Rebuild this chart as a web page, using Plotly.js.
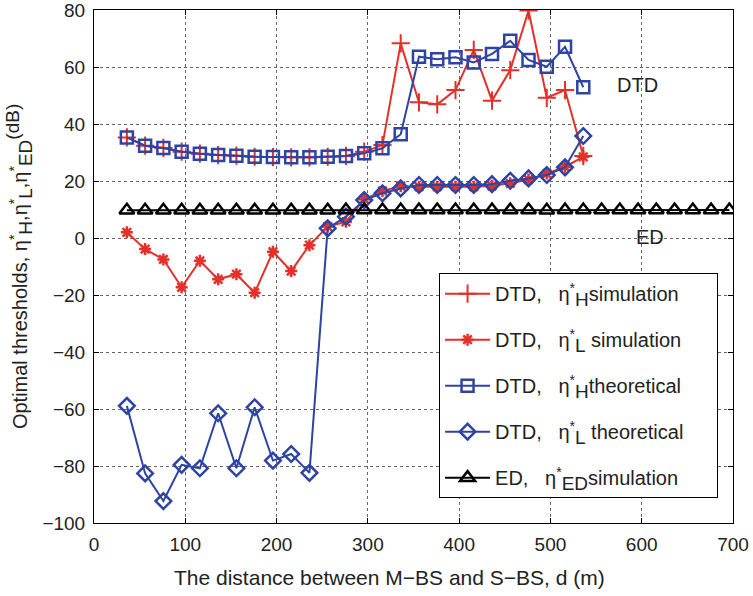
<!DOCTYPE html>
<html>
<head>
<meta charset="utf-8">
<script src="https://cdn.plot.ly/plotly-3.0.1.min.js"></script>
<style>html,body{margin:0;padding:0;background:#fff;}#chart{width:753px;height:596px;}</style>
</head>
<body>
<div id="chart"></div>
<script>
// ---- data ----
const distDTD = [36, 56, 76, 96, 116, 136, 156, 176, 196, 216, 236, 256, 276, 296, 316, 336, 356, 376, 396, 416, 436, 456, 476, 496, 516, 536];
const etaH_sim = [35.3, 32.4, 31.6, 30.3, 29.6, 29.1, 28.9, 28.5, 28.4, 28.3, 28.3, 28.5, 28.8, 30.3, 32.6, 68.3, 47.6, 46.9, 51.9, 66.0, 48.2, 58.9, 79.8, 49.2, 51.9, 28.8];
const etaL_sim = [2.0, -3.9, -7.5, -17.3, -8.0, -14.5, -12.7, -19.2, -4.8, -11.6, -2.5, 4.0, 5.7, 13.6, 16.5, 18.2, 18.0, 18.0, 18.0, 18.0, 18.3, 19.2, 20.5, 22.6, 25.0, 28.5];
const etaH_theo = [35.3, 32.4, 31.6, 30.3, 29.6, 29.1, 28.9, 28.5, 28.4, 28.3, 28.3, 28.5, 28.8, 29.7, 31.5, 36.4, 63.6, 62.7, 63.4, 61.6, 64.6, 69.2, 62.5, 60.1, 67.1, 52.9];
const etaL_theo = [-58.9, -82.6, -92.3, -79.6, -80.8, -61.5, -80.8, -59.4, -78.1, -75.8, -82.4, 3.4, 7.5, 13.3, 15.7, 17.4, 18.6, 18.6, 18.6, 18.6, 18.9, 20.1, 20.9, 22.1, 24.8, 35.8];
const distED = [36, 56, 76, 96, 116, 136, 156, 176, 196, 216, 236, 256, 276, 296, 316, 336, 356, 376, 396, 416, 436, 456, 476, 496, 516, 536, 556, 576, 596, 616, 636, 656, 676, 696];
const etaED_sim = [9.7, 9.7, 9.7, 9.7, 9.7, 9.7, 9.7, 9.7, 9.7, 9.7, 9.7, 9.7, 9.8, 9.8, 9.8, 9.8, 9.8, 9.8, 9.8, 9.8, 9.8, 9.8, 9.8, 9.7, 9.8, 9.8, 9.8, 9.8, 9.8, 9.8, 9.8, 9.8, 9.8, 9.8];
const SUBSTYLE = 'font-size:19px';
const sub = s => '<sub><span style="' + SUBSTYLE + '">' + s + '</span></sub>';
const supBig = s => '<sup><span style="' + SUBSTYLE + '">' + s + '</span></sup>';
const PAD = '&nbsp;&nbsp;&nbsp;&nbsp;&nbsp;';
const seriesNames = [
  "DTD,&nbsp;&nbsp; η<sup>*</sup>" + sub("H") + "simulation" + PAD,
  "DTD,&nbsp;&nbsp; η<sup>*</sup>" + sub("L") + " simulation" + PAD,
  "DTD,&nbsp;&nbsp; η<sup>*</sup>" + sub("H") + "theoretical" + PAD,
  "DTD,&nbsp;&nbsp; η<sup>*</sup>" + sub("L") + " theoretical" + PAD,
  "ED,&nbsp;&nbsp; η<sup>*</sup>" + sub("ED") + "simulation" + PAD
];
const yTitleText = "Optimal thresholds, η<sup>*</sup>" + sub("H") + ",η<sup>*</sup>" + sub("L") + ",η<sup>*</sup>" + sub("ED") + supBig("(dB)");
const xTitleText = "The distance between M\u2212BS and S\u2212BS, d (m)";
const xTicks = [0, 100, 200, 300, 400, 500, 600, 700];
const yTicks = [-100, -80, -60, -40, -20, 0, 20, 40, 60, 80];

const RED = '#e3312a', BLUE = '#2e44a4', BLACK = '#000000';
const FONT = 'Liberation Sans, Arial, Helvetica, sans-serif';

const traces = [
  {x: distDTD, y: etaH_sim, name: seriesNames[0], legendgroup: 'g1', mode: 'lines+markers',
   line: {color: RED, width: 2}, marker: {symbol: 'cross-thin-open', size: 13, line: {color: RED, width: 2}}},
  {x: distDTD, y: etaL_sim, name: seriesNames[1], legendgroup: 'g2', mode: 'lines+markers',
   line: {color: RED, width: 2}, marker: {symbol: 'asterisk-open', size: 10, line: {color: RED, width: 2.5}}},
  {x: distDTD, y: etaH_theo, name: seriesNames[2], legendgroup: 'g3', mode: 'lines+markers',
   line: {color: BLUE, width: 2}, marker: {symbol: 'square-open', size: 12, color: BLUE, line: {color: BLUE, width: 2.5}}},
  {x: distDTD, y: etaL_theo, name: seriesNames[3], legendgroup: 'g4', mode: 'lines+markers',
   line: {color: BLUE, width: 2}, marker: {symbol: 'diamond-open', size: 12, color: BLUE, line: {color: BLUE, width: 2.5}}},
  {x: distED, y: etaED_sim, name: seriesNames[4], legendgroup: 'g5', mode: 'lines+markers',
   line: {color: BLACK, width: 2}, marker: {symbol: 'triangle-up-open', size: 13, color: BLACK, line: {color: BLACK, width: 2.5}}}
];

const axisCommon = {
  showline: true, linecolor: '#000', linewidth: 1, mirror: 'ticks',
  ticks: 'inside', ticklen: 5, tickcolor: '#000', tickwidth: 1,
  showgrid: true, gridcolor: '#666', griddash: 'dot', gridwidth: 1,
  zeroline: false, tickfont: {family: FONT, size: 19, color: '#222'},
  ticklabeloverflow: 'allow'
};

const layout = {
  width: 753, height: 596,
  margin: {l: 94, r: 20, t: 10, b: 73},
  paper_bgcolor: '#fff', plot_bgcolor: '#fff',
  font: {family: FONT, color: '#222'},
  xaxis: Object.assign({}, axisCommon, {
    range: [0, 700], tickvals: xTicks, ticktext: xTicks.map(String), ticklabelstandoff: 4
  }),
  yaxis: Object.assign({}, axisCommon, {
    range: [-100, 80], tickvals: yTicks, ticktext: yTicks.map(v => v < 0 ? '\u2212' + Math.abs(v) : String(v)),
    ticklabelstandoff: 4
  }),
  showlegend: true,
  legend: {
    x: 0.54, xanchor: 'left', y: 0.487, yanchor: 'top',
    bgcolor: '#fff', bordercolor: '#000', borderwidth: 1,
    font: {family: FONT, size: 20, color: '#222'},
    traceorder: 'grouped', tracegroupgap: 17, itemwidth: 45
  },
  annotations: [
    {x: 595, y: 53.7, xref: 'x', yref: 'y', text: 'DTD', showarrow: false, font: {family: FONT, size: 20, color: '#222'}},
    {x: 609, y: 0.5, xref: 'x', yref: 'y', text: 'ED', showarrow: false, font: {family: FONT, size: 20, color: '#222'}},
    {x: 0.463, y: -0.107, xref: 'paper', yref: 'paper', text: xTitleText, showarrow: false,
     xanchor: 'center', yanchor: 'middle', font: {family: FONT, size: 21, color: '#222'}},
    {x: -0.118, y: 0.5, xref: 'paper', yref: 'paper', text: yTitleText, showarrow: false, textangle: -90,
     xanchor: 'center', yanchor: 'middle', font: {family: FONT, size: 20, color: '#222'}}
  ]
};

Plotly.newPlot('chart', traces, layout, {staticPlot: true, displayModeBar: false});
</script>
</body>
</html>
